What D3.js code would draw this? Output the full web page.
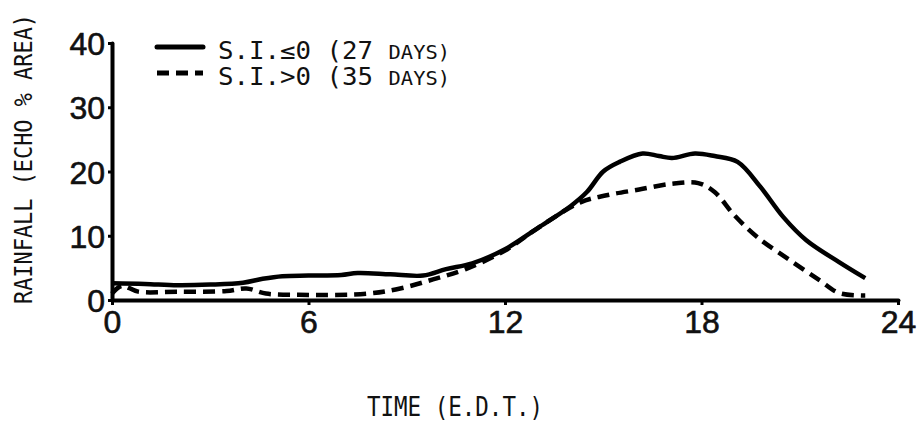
<!DOCTYPE html>
<html>
<head>
<meta charset="utf-8">
<script src="https://cdn.jsdelivr.net/npm/d3@7"></script>
<style>
  body { margin: 0; background: #fff; }
  svg text { fill: #111; }
</style>
</head>
<body>
<svg id="chart" width="918" height="423"></svg>
<script>
// Rainfall (echo % area) vs time of day, two stability-index groups

const xTicks = [0, 6, 12, 18, 24];
const yTicks = [0, 10, 20, 30, 40];

// S.I. <= 0 (27 days) — solid
const stableHours  = [0, 1, 2, 3, 4, 4.6, 5.2, 6, 7, 7.5, 8.5, 9.5, 10.2, 11, 12, 13, 14, 14.5, 15, 15.5, 16.2, 16.7, 17.1, 17.8, 18.4, 19.1, 19.8, 20.5, 21.2, 22.2, 23];
const stableValues = [2.6, 2.5, 2.3, 2.4, 2.7, 3.3, 3.7, 3.8, 3.9, 4.2, 4.0, 3.8, 4.8, 5.7, 7.9, 11.2, 14.6, 16.8, 20.0, 21.5, 22.8, 22.4, 22.1, 22.8, 22.4, 21.5, 17.6, 12.9, 9.3, 5.9, 3.4];

// S.I. > 0 (35 days) — dashed
const unstableHours  = [0, 0.3, 0.8, 2, 3.5, 4.1, 4.7, 5.7, 7.8, 8.8, 9.8, 10.8, 12, 13, 14.3, 15.1, 16.1, 17.1, 17.9, 18.4, 19.0, 19.7, 20.7, 21.6, 22.2, 23];
const unstableValues = [1.0, 2.2, 1.3, 1.3, 1.4, 1.8, 1.0, 0.8, 1.0, 1.8, 3.2, 4.8, 7.7, 11.2, 15.2, 16.3, 17.2, 18.1, 18.2, 16.8, 13.2, 9.8, 6.2, 3.1, 1.1, 0.7];

const legendLabels = [
  { pre: 'S.I.≤0 (27 ', unit: 'DAYS)', dash: null },
  { pre: 'S.I.>0 (35 ', unit: 'DAYS)', dash: '12,7' },
];

const svg = d3.select('#chart');
const margin = { top: 43, left: 112 };
const plotW = 786, plotH = 257;

const x = d3.scaleLinear().domain([0, 24]).range([margin.left, margin.left + plotW]);
const y = d3.scaleLinear().domain([0, 40]).range([margin.top + plotH, margin.top]);

const inkFont = '"Liberation Sans", Arial, sans-serif';
const typeFont = '"DejaVu Sans Mono", monospace';

// ── Axes ────────────────────────────────────────────────────────────────────
const gx = svg.append('g')
  .attr('transform', `translate(0,${y(0)})`)
  .call(d3.axisBottom(x).tickValues(xTicks).tickSize(5).tickSizeOuter(0).tickPadding(4));

const gy = svg.append('g')
  .attr('transform', `translate(${x(0)},0)`)
  .call(d3.axisLeft(y).tickValues(yTicks).tickSize(4).tickSizeOuter(0).tickPadding(3));

[gx, gy].forEach(g => {
  g.select('.domain').attr('stroke', '#000').attr('stroke-width', 4).attr('stroke-linecap', 'round');
  g.selectAll('.tick line').attr('stroke', '#000').attr('stroke-width', 3);
  g.selectAll('.tick text')
    .style('font-family', inkFont)
    .style('font-size', '32px')
    .attr('fill', '#111')
    .attr('stroke', '#111')
    .attr('stroke-width', 0.6);
});
gy.selectAll('.tick text').attr('dy', '0.36em');
gx.selectAll('.tick text').attr('dy', '0.75em');

// ── Lines ───────────────────────────────────────────────────────────────────
const line = d3.line()
  .x(d => x(d[0]))
  .y(d => y(d[1]))
  .curve(d3.curveCatmullRom.alpha(0.5));

svg.append('path')
  .datum(d3.zip(stableHours, stableValues))
  .attr('fill', 'none')
  .attr('stroke', '#000')
  .attr('stroke-width', 4.5)
  .attr('stroke-linejoin', 'round')
  .attr('d', line);

svg.append('path')
  .datum(d3.zip(unstableHours, unstableValues))
  .attr('fill', 'none')
  .attr('stroke', '#000')
  .attr('stroke-width', 4.5)
  .attr('stroke-dasharray', '12,7')
  .attr('d', line);

// ── Legend ──────────────────────────────────────────────────────────────────
const legend = svg.append('g');
legendLabels.forEach((d, i) => {
  const ly = 47 + i * 26;
  legend.append('line')
    .attr('x1', 157).attr('x2', 203)
    .attr('y1', ly).attr('y2', ly)
    .attr('stroke', '#000')
    .attr('stroke-width', 5)
    .attr('stroke-linecap', d.dash ? 'butt' : 'round')
    .attr('stroke-dasharray', d.dash);
  const t = legend.append('text')
    .attr('x', 218).attr('y', ly + 12)
    .attr('textLength', 232)
    .attr('lengthAdjust', 'spacingAndGlyphs')
    .style('font-family', typeFont)
    .style('font-size', '24px');
  t.append('tspan').text(d.pre);
  t.append('tspan').style('font-size', '19px').text(d.unit);
});

// ── Axis titles ─────────────────────────────────────────────────────────────
// condensed typewriter look: narrow font stretched across the text direction
svg.append('text')
  .attr('transform', 'translate(32,159) rotate(-90) scale(1,1.15)')
  .attr('text-anchor', 'middle')
  .attr('textLength', 290)
  .attr('lengthAdjust', 'spacingAndGlyphs')
  .style('font-family', typeFont)
  .style('font-size', '22px')
  .text('RAINFALL (ECHO % AREA)');

svg.append('text')
  .attr('x', 455).attr('y', 416)
  .attr('text-anchor', 'middle')
  .attr('textLength', 176)
  .attr('lengthAdjust', 'spacingAndGlyphs')
  .style('font-family', typeFont)
  .style('font-size', '26px')
  .text('TIME (E.D.T.)');
</script>
</body>
</html>
